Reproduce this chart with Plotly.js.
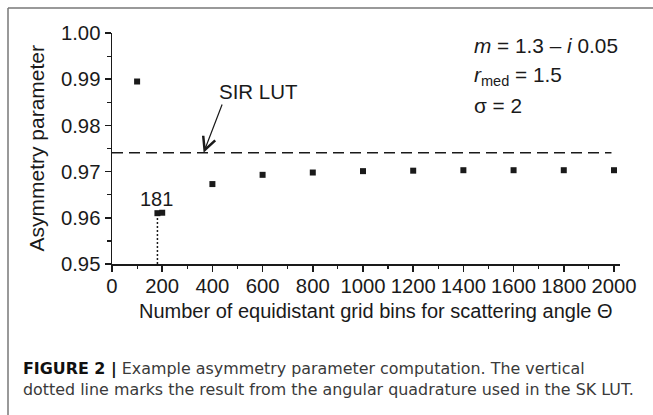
<!DOCTYPE html>
<html><head><meta charset="utf-8">
<script src="https://cdn.plot.ly/plotly-3.0.1.min.js"></script>
<style>html,body{margin:0;padding:0;background:#fff}#chart{width:653px;height:415px}</style>
</head><body><div id="chart"></div>
<script>
// Data
const binCounts = [100, 181, 200, 400, 600, 800, 1000, 1200, 1400, 1600, 1800, 2000];
const asymmetry = [0.9895, 0.9610, 0.9611, 0.9673, 0.9693, 0.9698, 0.9701, 0.9702, 0.9703, 0.9703, 0.9703, 0.9703];
const sirLutX = [0, 1990];
const sirLutG = [0.9741, 0.9741];
const skLutX = [181, 181];
const skLutG = [0.95, 0.9610];
const xTickVals = [0, 200, 400, 600, 800, 1000, 1200, 1400, 1600, 1800, 2000];
const yTickVals = [0.95, 0.96, 0.97, 0.98, 0.99, 1.00];
const yTickText = ['0.95', '0.96', '0.97', '0.98', '0.99', '1.00'];

const FONT = 'Liberation Sans, Arial, Helvetica, sans-serif';
const INK = '#1a1a1a';

const traces = [
  {x: sirLutX, y: sirLutG, type: 'scatter', mode: 'lines',
   line: {color: INK, width: 1.5, dash: '11px,6px'}, hoverinfo: 'skip'},
  {x: skLutX, y: skLutG, type: 'scatter', mode: 'lines',
   line: {color: INK, width: 1.5, dash: '2px,2px'}, hoverinfo: 'skip'},
  {x: binCounts, y: asymmetry, type: 'scatter', mode: 'markers',
   marker: {symbol: 'square', size: 6, color: INK}}
];

// pixel -> paper helpers for decorations outside the plot area
const L = 112, R = 33, T = 33, B = 151, W = 653, H = 415;
const pw = W - L - R, ph = H - T - B;
const px = v => (v - L) / pw;
const py = v => (H - B - v) / ph;

const layout = {
  width: W, height: H,
  margin: {l: L, r: R, t: T, b: B, pad: 0},
  paper_bgcolor: '#fff', plot_bgcolor: '#fff',
  showlegend: false,
  font: {family: FONT, color: INK, size: 20},
  xaxis: {
    range: [0, 2024], tickmode: 'array', tickvals: xTickVals,
    showgrid: false, zeroline: false, showline: true, linecolor: INK, linewidth: 1.5,
    ticks: 'outside', ticklen: 6, tickwidth: 1.5, tickcolor: INK, ticklabelstandoff: -3,
    minor: {dtick: 100, tick0: 0, ticks: 'outside', ticklen: 3.5, tickwidth: 1.2, tickcolor: INK, showgrid: false},
    tickfont: {family: FONT, size: 20.3, color: INK}
  },
  yaxis: {
    range: [0.95, 1.0], tickmode: 'array', tickvals: yTickVals, ticktext: yTickText,
    showgrid: false, zeroline: false, showline: true, linecolor: INK, linewidth: 1.5,
    ticks: 'outside', ticklen: 6, tickwidth: 1.5, tickcolor: INK,
    minor: {dtick: 0.005, tick0: 0.95, ticks: 'outside', ticklen: 3.5, tickwidth: 1.2, tickcolor: INK, showgrid: false},
    tickfont: {family: FONT, size: 20.3, color: INK}
  },
  shapes: [
    {type: 'line', xref: 'paper', yref: 'paper', x0: px(8), x1: px(8), y0: py(8), y1: py(416),
     line: {color: '#777', width: 1.5}},
    {type: 'line', xref: 'paper', yref: 'paper', x0: px(8), x1: px(654), y0: py(8), y1: py(8),
     line: {color: '#777', width: 1.5}}
  ],
  annotations: [
    // arrow to SIR LUT line
    {x: 365, y: 0.9741, ax: 441, ay: 0.98485, xref: 'x', yref: 'y', axref: 'x', ayref: 'y',
     text: '', showarrow: true, arrowhead: 5, arrowsize: 2.1, arrowwidth: 1.2, arrowcolor: INK},
    {x: 584, y: 0.9873, xref: 'x', yref: 'y', text: 'SIR LUT', showarrow: false,
     font: {family: FONT, size: 20.5, color: INK}, xanchor: 'center', yanchor: 'middle'},
    {x: 178, y: 0.96414, xref: 'x', yref: 'y', text: '181', showarrow: false,
     font: {family: FONT, size: 20, color: INK}, xanchor: 'center', yanchor: 'middle'},
    {x: px(472), y: py(45.7), xref: 'paper', yref: 'paper', xanchor: 'left', yanchor: 'middle', showarrow: false,
     text: '<i>m</i> = 1.3 – <i>i</i> 0.05', font: {family: FONT, size: 20.8, color: INK}},
    {x: px(472), y: py(76), xref: 'paper', yref: 'paper', xanchor: 'left', yanchor: 'middle', showarrow: false,
     text: '<i>r</i><sub>med</sub> = 1.5', font: {family: FONT, size: 20.8, color: INK}},
    {x: px(472), y: py(106), xref: 'paper', yref: 'paper', xanchor: 'left', yanchor: 'middle', showarrow: false,
     text: 'σ = 2', font: {family: FONT, size: 20.8, color: INK}},
    // axis titles
    {x: px(36), y: 0.5, xref: 'paper', yref: 'paper', xanchor: 'center', yanchor: 'middle', showarrow: false,
     textangle: -90, text: 'Asymmetry parameter', font: {family: FONT, size: 21, color: INK}},
    {x: px(376), y: py(311), xref: 'paper', yref: 'paper', xanchor: 'center', yanchor: 'middle', showarrow: false,
     text: 'Number of equidistant grid bins for scattering angle Θ', font: {family: FONT, size: 20, color: INK}},
    // caption
    {x: px(21), y: py(369), xref: 'paper', yref: 'paper', xanchor: 'left', yanchor: 'middle', showarrow: false,
     text: '<b>FIGURE 2 |</b><span style="color:#3a3a3a"> Example asymmetry parameter computation. The vertical</span>',
     font: {family: 'DejaVu Sans, sans-serif', size: 15.9, color: '#111'}},
    {x: px(21), y: py(389), xref: 'paper', yref: 'paper', xanchor: 'left', yanchor: 'middle', showarrow: false,
     text: 'dotted line marks the result from the angular quadrature used in the SK LUT.',
     font: {family: 'DejaVu Sans, sans-serif', size: 15.9, color: '#3a3a3a'}}
  ]
};

Plotly.newPlot('chart', traces, layout, {staticPlot: true, displayModeBar: false});
</script>
</body></html>
